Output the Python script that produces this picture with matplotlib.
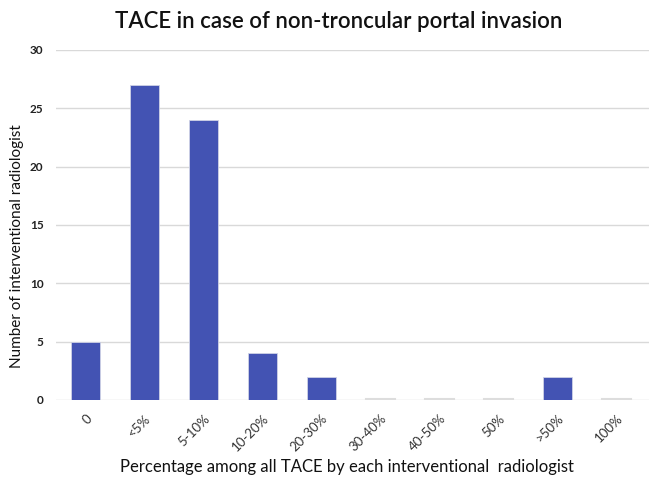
import numpy as np
import matplotlib.pyplot as plt

plt.rcParams['font.family'] = ['Lato', 'DejaVu Sans']

categories = ["0", "<5%", "5-10%", "10-20%", "20-30%", "30-40%", "40-50%", "50%", ">50%", "100%"]
counts = [5, 27, 24, 4, 2, 0, 0, 0, 2, 0]

fig = plt.figure(figsize=(6.49, 4.8), dpi=100)
ax = fig.add_axes([0.0863, 0.1667, 0.9137, 0.7292])

x = np.arange(len(categories))
ax.bar(x, counts, width=0.5, color='#4353b3', edgecolor='#cfd3e6', linewidth=0.6, zorder=3)
# empty categories show only a faint baseline stub
for xi, c in zip(x, counts):
    if c == 0:
        ax.plot([xi - 0.25, xi + 0.25], [0.05, 0.05], color='#dddddd', lw=1.5, zorder=3)

ax.set_xlim(-0.5, 9.55)
ax.set_ylim(0, 30)
ax.set_yticks([0, 5, 10, 15, 20, 25, 30])
ax.yaxis.grid(True, color='#d9d9d9', linewidth=1, zorder=0)
for s in ax.spines.values():
    s.set_visible(False)
ax.tick_params(length=0)
ax.tick_params(axis='y', labelsize=8.5, pad=9, labelcolor='#222222')
for lbl in ax.get_yticklabels():
    lbl.set_fontweight('bold')
ax.set_xticks(x)
ax.set_xticklabels(categories, rotation=45, ha='right', rotation_mode='anchor',
                   fontsize=9.5, color='#333333')
ax.tick_params(axis='x', pad=9)

fig.text(0.522, 0.955, 'TACE in case of non-troncular portal invasion', ha='center', va='center',
         fontsize=16, fontweight='semibold', color='#111111')
fig.text(0.535, 0.027, 'Percentage among all TACE by each interventional  radiologist',
         ha='center', va='center', fontsize=12, color='#111111')
fig.text(0.026, 0.487, 'Number of interventional radiologist', rotation=90,
         ha='center', va='center', fontsize=11, color='#111111')

plt.savefig('out.png', dpi=100)
